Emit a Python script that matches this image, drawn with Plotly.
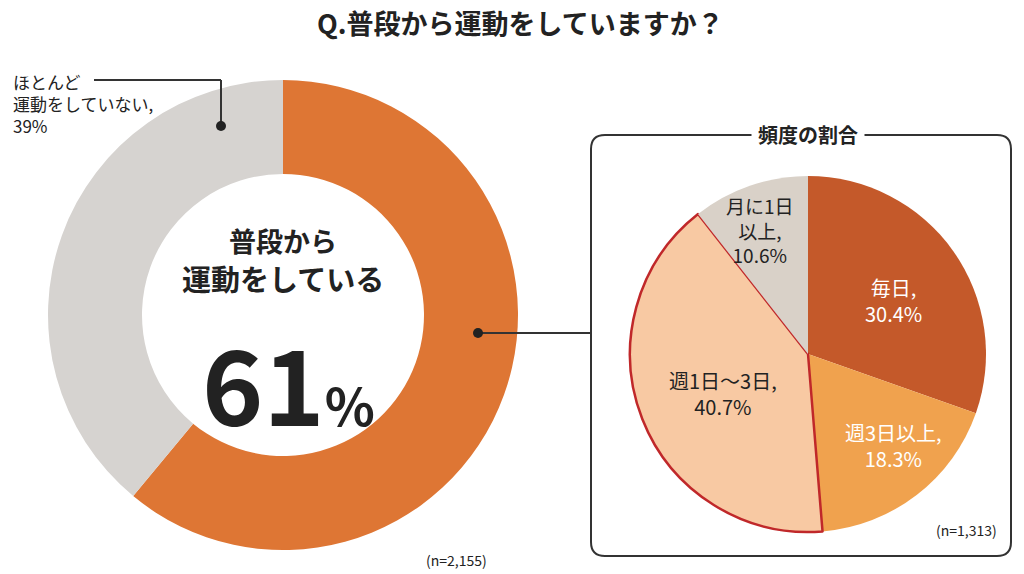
import plotly.graph_objects as go

W, H = 1024, 574
FONT = "Noto Sans CJK JP"

main_labels = ["普段から運動をしている", "ほとんど運動をしていない"]
main_values = [61, 39]
main_colors = ["#DE7634", "#D6D3D0"]

freq_labels = ["毎日", "週3日以上", "週1日～3日", "月に1日以上"]
freq_values = [30.4, 18.3, 40.7, 10.6]
freq_colors = ["#C4592A", "#F0A24E", "#F8C9A3", "#D9D1C8"]


def px(x, y):
    return x / W, 1 - y / H


fig = go.Figure()
fig.add_trace(go.Pie(
    labels=main_labels, values=main_values, hole=0.6, sort=False,
    direction="clockwise", rotation=0, textinfo="none",
    marker=dict(colors=main_colors, line=dict(width=0)),
    domain=dict(x=[40 / W, 510 / W], y=[1 - 542 / H, 1 - 72 / H]),
    showlegend=False, hoverinfo="label+percent",
))
fig.add_trace(go.Pie(
    labels=freq_labels, values=freq_values, sort=False,
    direction="clockwise", rotation=0, textinfo="none",
    marker=dict(colors=freq_colors,
                line=dict(color=["rgba(0,0,0,0)", "rgba(0,0,0,0)", "#C0282A", "rgba(0,0,0,0)"],
                          width=[0, 0, 2.5, 0])),
    domain=dict(x=[622 / W, 978 / W], y=[1 - 530 / H, 1 - 162 / H]),
    showlegend=False, hoverinfo="label+percent",
))

shapes = []
# rounded frame
x0, y0 = px(583, 548)
x1, y1 = px(1003, 127)
rx, ry = 14 / W, 14 / H
path = (f"M {x0+rx},{y0} L {x1-rx},{y0} Q {x1},{y0} {x1},{y0+ry} "
        f"L {x1},{y1-ry} Q {x1},{y1} {x1-rx},{y1} L {x0+rx},{y1} "
        f"Q {x0},{y1} {x0},{y1-ry} L {x0},{y0+ry} Q {x0},{y0} {x0+rx},{y0} Z")
shapes.append(dict(type="path", xref="paper", yref="paper", path=path,
                   line=dict(color="#333333", width=2)))
# connector lines
for a, b in [((470, 325), (583, 325)), ((86, 72), (213, 72)), ((213, 72), (213, 118))]:
    (ax, ay), (bx, by) = px(*a), px(*b)
    shapes.append(dict(type="line", xref="paper", yref="paper", x0=ax, y0=ay, x1=bx, y1=by,
                       line=dict(color="#333333", width=2)))
for cx, cy in [(470, 325), (213, 118)]:
    (ax, ay), (bx, by) = px(cx - 5, cy + 5), px(cx + 5, cy - 5)
    shapes.append(dict(type="circle", xref="paper", yref="paper", x0=ax, y0=ay, x1=bx, y1=by,
                       fillcolor="#222222", line=dict(width=0)))

anns = []


def ann(text, x, y, size, color="#222222", bold=True, align="center", xanchor="center", **kw):
    ax, ay = px(x, y)
    t = f"<b>{text}</b>" if bold else text
    anns.append(dict(text=t, x=ax, y=ay, xref="paper", yref="paper", showarrow=False,
                     font=dict(family=FONT, size=size, color=color), align=align,
                     xanchor=xanchor, yanchor="middle", **kw))


ann("Q.普段から運動をしていますか？", 512, 14, 27)
ann("ほとんど<br>運動をしていない,<br>39%", 3, 96, 17, align="left", xanchor="left", bold=False)
ann("普段から", 275, 232, 27)
ann("運動をしている", 275, 270, 29)
ann("61<span style='font-size:52px'>%</span>", 280, 372, 104)
ann("(n=2,155)", 448, 552, 14, bold=False)
ann("頻度の割合", 800, 127, 20, bgcolor="white", borderpad=6)
ann("毎日,<br>30.4%", 885, 292, 20, color="white", bold=False)
ann("週3日以上,<br>18.3%", 885, 437, 20, color="white", bold=False)
ann("週1日～3日,<br>40.7%", 715, 385, 20, bold=False)
ann("月に1日<br>以上,<br>10.6%", 752, 222, 19, bold=False)
ann("(n=1,313)", 958, 522, 14, bold=False)

fig.update_layout(width=W, height=H, margin=dict(l=0, r=0, t=0, b=0),
                  paper_bgcolor="white", plot_bgcolor="white",
                  shapes=shapes, annotations=anns)
fig.write_html("out.html")
